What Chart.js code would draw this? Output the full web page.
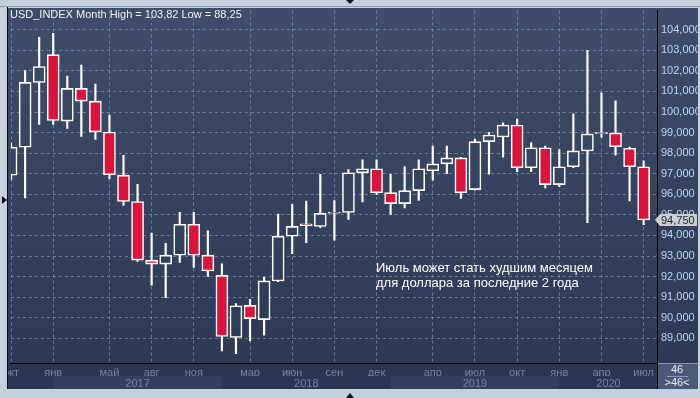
<!DOCTYPE html>
<html>
<head>
<meta charset="utf-8">
<script src="https://cdn.jsdelivr.net/npm/chart.js@4"></script>
<style>
  html, body { margin: 0; padding: 0; background: #c5d0dd; }
  #wrap { width: 700px; height: 398px; }
</style>
</head>
<body>
<div id="wrap"><canvas id="usdChart" width="700" height="398"></canvas></div>
<script>
// USD_INDEX monthly candles, окт 2016 .. июл 2020
const opens  = [96.93, 98.29, 101.44, 102.79, 99.56, 101.15, 100.53, 99.03, 96.93, 95.65, 92.80, 92.61,
                93.04, 94.54, 93.04, 92.06, 89.04, 90.60, 89.91, 91.79, 93.96, 94.57, 94.44, 95.08,
                95.12, 97.05, 97.24, 96.08, 95.55, 96.18, 97.15, 97.48, 97.77, 96.23, 98.56, 98.79,
                99.37, 97.29, 98.26, 96.47, 97.34, 98.11, 98.95, 98.98, 98.24, 97.34];
const closes = [98.29, 101.44, 102.21, 99.59, 101.15, 100.53, 99.03, 96.95, 95.65, 92.80, 92.61, 93.04,
                94.54, 93.04, 92.27, 89.09, 90.58, 89.96, 91.79, 93.96, 94.44, 94.47, 95.07, 95.13,
                97.05, 97.24, 96.08, 95.55, 96.18, 97.24, 97.48, 97.77, 96.08, 98.56, 98.88, 99.37,
                97.29, 98.26, 96.47, 97.34, 98.11, 98.93, 99.00, 98.31, 97.34, 94.75];
const highs  = [98.50, 102.02, 103.63, 103.82, 101.75, 102.28, 101.36, 99.85, 97.89, 96.49, 94.11, 93.62,
                95.12, 95.12, 94.22, 92.62, 90.69, 90.89, 91.96, 95.04, 95.51, 95.67, 96.97, 95.70,
                97.20, 97.68, 97.68, 96.97, 97.35, 97.68, 98.35, 98.35, 97.80, 98.67, 99.01, 99.48,
                99.66, 98.51, 98.35, 98.17, 99.91, 103.00, 100.93, 100.54, 98.30, 97.63];
const lows   = [96.70, 95.82, 99.40, 99.40, 99.20, 98.82, 98.67, 96.76, 95.46, 92.74, 91.58, 90.97,
                92.69, 92.45, 92.01, 88.39, 88.25, 88.87, 89.15, 91.75, 93.12, 93.65, 94.38, 93.77,
                94.78, 95.63, 96.00, 95.02, 95.34, 95.70, 96.69, 97.00, 95.80, 96.20, 96.98, 97.80,
                97.10, 97.10, 96.31, 96.37, 97.30, 94.62, 98.77, 97.90, 95.68, 94.52];

// axis labels
const monthTickIdx = [0, 3, 7, 10, 13, 17, 20, 23, 26, 30, 33, 36, 39, 42, 45];
const monthLabels  = ['окт', 'янв', 'май', 'авг', 'ноя', 'мар', 'июн', 'сен', 'дек', 'апр', 'июл', 'окт', 'янв', 'апр', 'июл'];
const yearLabels   = ['2017', '2018', '2019', '2020'];
const yearStartIdx = [3, 15, 27, 39];
const yearLabelPos = [9, 21, 33, 42.5];
const priceTicks   = [89, 90, 91, 92, 93, 94, 95, 96, 97, 98, 99, 100, 101, 102, 103, 104];

const titleText = 'USD_INDEX Month High = 103,82 Low = 88,25';
const noteLines = ['Июль может стать худшим месяцем', 'для доллара за последние 2 года'];

const NARROW = '"Liberation Sans Narrow", "Liberation Sans", sans-serif';
const GRID = 'rgba(140,160,196,0.62)';
const RED = '#dc143c';

let bgGrad = null;
function plotGradient(chart) {
  if (!bgGrad) {
    bgGrad = chart.ctx.createLinearGradient(0, 8, 0, 363);
    bgGrad.addColorStop(0, '#3e4d69');
    bgGrad.addColorStop(1, '#2d3a55');
  }
  return bgGrad;
}

const bodies = opens.map((o, i) => ({ x: i, y: [o, closes[i]] }));
const wicks  = opens.map((o, i) => ({ x: i, y: [lows[i], highs[i]] }));

function fmtPrice(v) {
  return v.toFixed(3).replace('.', ',');
}

// frame, panels, title, note, markers
const decor = {
  id: 'decor',
  beforeDraw(chart) {
    const c = chart.ctx;
    const xs = chart.scales.x;
    c.save();
    c.fillStyle = '#c5d0dd';
    c.fillRect(0, 0, 700, 398);
    c.fillStyle = plotGradient(chart);
    c.fillRect(8, 8, 690, 355);
    // bottom axis panel
    c.fillStyle = '#2b3651';
    c.fillRect(8, 363, 650, 26);
    c.fillStyle = '#333f5c';
    yearStartIdx.forEach((s, k) => {
      if (k % 2 !== 0) return;
      const x0 = xs.getPixelForValue(s);
      const x1 = k + 1 < yearStartIdx.length ? xs.getPixelForValue(yearStartIdx[k + 1]) : 657;
      c.fillRect(x0, 376, x1 - x0, 13);
    });
    c.restore();
  },
  afterDraw(chart) {
    const c = chart.ctx;
    const ys = chart.scales.y;
    c.save();
    // left strip
    c.fillStyle = '#c5d0dd';
    c.fillRect(0, 0, 7, 398);
    c.fillStyle = '#8e9bb0';
    c.fillRect(0, 0, 700, 7);
    c.fillStyle = '#c5d0dd';
    c.fillRect(0, 0, 700, 6);
    c.fillStyle = '#000';
    c.fillRect(7, 7, 1, 382);
    c.fillRect(657, 363, 1, 26);
    // corner box
    c.fillStyle = '#4a5a78';
    c.fillRect(658, 363.5, 40, 25.5);
    c.fillStyle = '#e4ecf7';
    c.font = '11px ' + NARROW;
    c.textAlign = 'center';
    c.textBaseline = 'middle';
    c.fillText(String(opens.length), 677, 370);
    c.fillText('>' + opens.length + '<', 677, 383);
    c.fillStyle = '#8c9ab3';
    c.fillRect(667, 376, 21, 1);
    // title
    c.textAlign = 'left';
    c.fillStyle = '#eef2f8';
    c.fillText(titleText, 10, 15);
    // note
    c.font = '13px "Liberation Sans", Arial, sans-serif';
    c.fillStyle = '#ffffff';
    c.fillText(noteLines[0], 376, 268);
    c.fillText(noteLines[1], 376, 283);
    // last price tag
    const last = closes[closes.length - 1];
    const py = Math.round(ys.getPixelForValue(last));
    c.fillStyle = '#c9cdd4';
    c.beginPath();
    c.moveTo(655, py);
    c.lineTo(660, py - 6);
    c.lineTo(697, py - 6);
    c.lineTo(697, py + 6);
    c.lineTo(660, py + 6);
    c.closePath();
    c.fill();
    c.fillStyle = '#1c2130';
    c.font = '11px ' + NARROW;
    c.fillText(fmtPrice(last), 661, py + 0.5);
    // markers
    c.fillStyle = '#111722';
    c.beginPath(); c.moveTo(2, 196); c.lineTo(7, 200); c.lineTo(2, 204); c.fill();
    c.beginPath(); c.moveTo(346, 0); c.lineTo(354, 0); c.lineTo(350, 4); c.fill();
    c.beginPath(); c.moveTo(346, 398); c.lineTo(354, 398); c.lineTo(350, 393); c.fill();
    c.restore();
  }
};

const chart = new Chart(document.getElementById('usdChart'), {
  type: 'bar',
  data: {
    datasets: [
      {
        label: 'body',
        data: bodies,
        grouped: false,
        barThickness: 12,
        borderWidth: 1.6,
        borderSkipped: false,
        borderColor: '#ffffff',
        backgroundColor: ctx => {
          const i = ctx.dataIndex;
          if (i === undefined) return RED;
          return closes[i] >= opens[i] ? plotGradient(ctx.chart) : RED;
        }
      },
      {
        label: 'wick',
        data: wicks,
        grouped: false,
        barThickness: 1.5,
        borderWidth: 0,
        backgroundColor: '#ffffff'
      }
    ]
  },
  plugins: [decor],
  options: {
    responsive: false,
    animation: false,
    layout: { padding: { left: 8, top: 8, right: 2, bottom: 9 } },
    plugins: {
      legend: { display: false },
      tooltip: { enabled: false },
      title: { display: false }
    },
    scales: {
      x: {
        type: 'linear',
        position: 'bottom',
        min: -0.01,
        max: 45.95,
        offset: false,
        afterBuildTicks: s => { s.ticks = monthTickIdx.map(v => ({ value: v })); },
        afterFit: s => { s.height = 13; },
        grid: { color: GRID, lineWidth: 1, drawTicks: false, offset: false },
        border: { display: true, color: '#000', width: 1, dash: [3, 3] },
        ticks: {
          autoSkip: false, maxRotation: 0, minRotation: 0, padding: 3,
          color: '#76839d',
          font: { family: NARROW, size: 11 },
          callback: v => monthLabels[monthTickIdx.indexOf(v)]
        }
      },
      x2: {
        type: 'linear',
        position: 'bottom',
        min: -0.01,
        max: 45.95,
        offset: false,
        afterBuildTicks: s => { s.ticks = yearLabelPos.map(v => ({ value: v })); },
        afterFit: s => { s.height = 13; },
        grid: { display: false, drawTicks: false },
        border: { display: false },
        ticks: {
          autoSkip: false, maxRotation: 0, minRotation: 0, padding: 1,
          color: '#76839d',
          font: { family: NARROW, size: 11 },
          callback: v => yearLabels[yearLabelPos.indexOf(v)]
        }
      },
      y: {
        position: 'right',
        min: 87.8,
        max: 104.93,
        afterBuildTicks: s => { s.ticks = priceTicks.map(v => ({ value: v })); },
        afterFit: s => { s.width = 41; },
        grid: { color: GRID, lineWidth: 1, drawTicks: false },
        border: { display: true, color: '#000', width: 1, dash: [3, 3] },
        ticks: {
          padding: 4,
          color: '#bcd6f5',
          font: { family: NARROW, size: 11 },
          callback: v => fmtPrice(v)
        }
      }
    }
  }
});
</script>
</body>
</html>
